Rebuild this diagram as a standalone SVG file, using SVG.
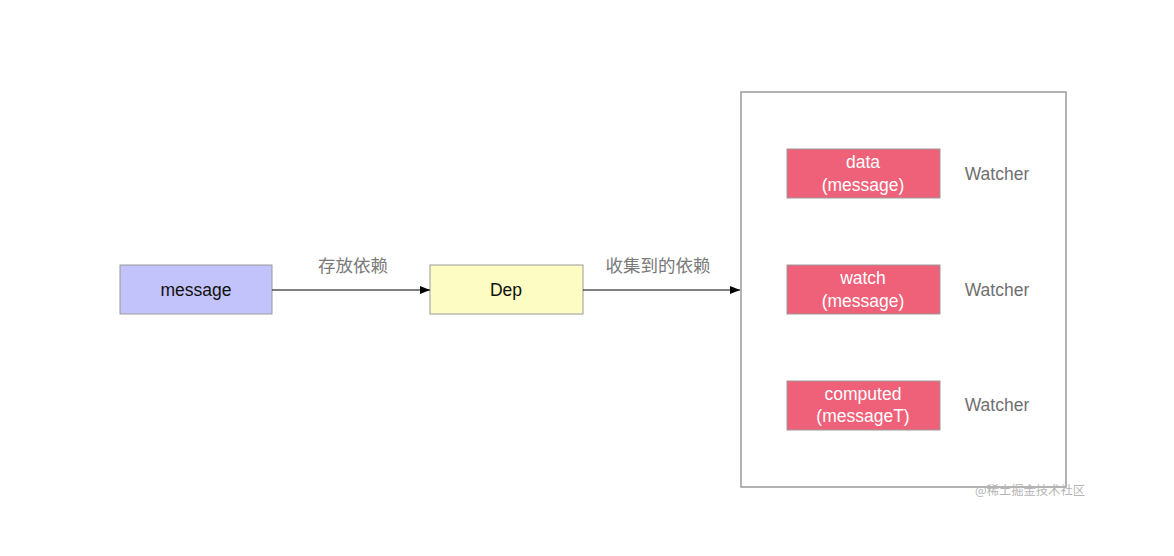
<svg xmlns="http://www.w3.org/2000/svg" width="1174" height="556" viewBox="0 0 1174 556">
<defs>
<style>
.box{stroke:#9a9a9a;stroke-width:1}
.t{font-family:"Liberation Sans","Noto Sans CJK SC",sans-serif;font-size:17.5px;text-anchor:middle;dominant-baseline:central}
.w{fill:#ffffff}
.k{fill:#111111}
.g{fill:#6f6f6f}
.lbl{font-family:"Liberation Sans","Noto Sans CJK SC",sans-serif;font-size:17.5px;fill:#7a7a7a;text-anchor:middle}
.wm{font-family:"Noto Sans CJK SC",sans-serif;font-size:12.3px;fill:#b5b5b5}
.red{fill:#ef6079}
</style>
<marker id="ah" markerWidth="10" markerHeight="8" refX="10" refY="4" orient="auto" markerUnits="userSpaceOnUse">
<path d="M0,0 L10,4 L0,8 z" fill="#000"/>
</marker>
</defs>
<rect width="1174" height="556" fill="#fff"/>
<g id="container">
<rect x="741" y="92" width="325" height="395" fill="#fff" stroke="#9a9a9a" stroke-width="1.5"/>
</g>
<g id="message">
<rect class="box" x="120" y="265" width="152" height="49" fill="#c3c3fb"/>
<text class="t k" x="196" y="290">message</text>
</g>
<g id="dep">
<rect class="box" x="430" y="265" width="153" height="49" fill="#fdfdc3"/>
<text class="t k" x="506" y="290">Dep</text>
</g>
<g id="data">
<rect class="box red" x="787" y="149" width="153" height="49"/>
<text class="t w" x="863" y="162">data</text>
<text class="t w" x="863" y="185">(message)</text>
<text class="t g" x="997" y="174">Watcher</text>
</g>
<g id="watch">
<rect class="box red" x="787" y="265" width="153" height="49"/>
<text class="t w" x="863" y="278">watch</text>
<text class="t w" x="863" y="301">(message)</text>
<text class="t g" x="997" y="290">Watcher</text>
</g>
<g id="computed">
<rect class="box red" x="787" y="381" width="153" height="49"/>
<text class="t w" x="863" y="394">computed</text>
<text class="t w" x="863" y="416">(messageT)</text>
<text class="t g" x="997" y="405">Watcher</text>
</g>
<g id="connectors">
<line x1="272" y1="290" x2="430" y2="290" stroke="#000" stroke-width="1.2" marker-end="url(#ah)"/>
<line x1="583" y1="290" x2="740" y2="290" stroke="#000" stroke-width="1.2" marker-end="url(#ah)"/>
<text class="lbl" x="353" y="272">存放依赖</text>
<text class="lbl" x="658" y="272">收集到的依赖</text>
</g>
<text class="wm" x="975" y="495">@稀土掘金技术社区</text>
</svg>
